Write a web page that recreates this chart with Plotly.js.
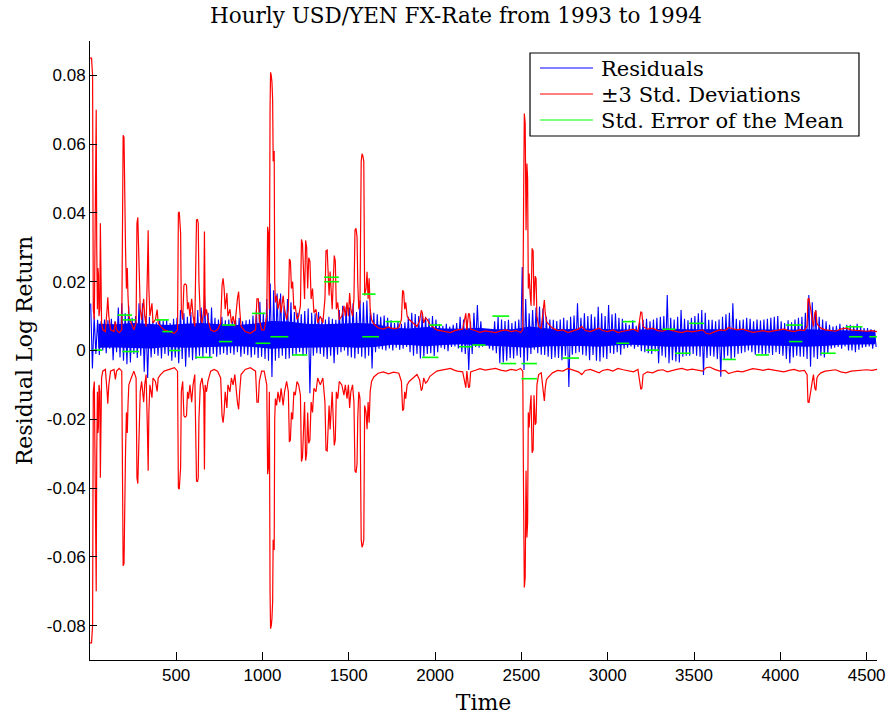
<!DOCTYPE html>
<html><head><meta charset="utf-8">
<script src="https://cdn.plot.ly/plotly-3.0.1.min.js"></script>
<style>html,body{margin:0;padding:0;background:#fff;} #chart{width:888px;height:717px;}</style>
</head><body><div id="chart"></div>
<script>
// ---------- data ----------
const binWidth = 20; // residual band read in 20-hour bins (max / min of each bin)
const residHi = [
0.0137,0.010,0.0089,0.0085,0.009, 0.0088,0.0092,0.0085,0.0125,0.0137,
0.0108,0.0130,0.0095,0.0100,0.0137, 0.0137,0.0100,0.0098,0.0085,0.0082,
0.0090,0.0087,0.0089,0.0080,0.0092, 0.0095,0.0118,0.0108,0.0098,0.0112,
0.0098,0.0118,0.0125,0.0156,0.0110, 0.0125,0.0095,0.0090,0.0098,0.0088,
0.0090,0.0086,0.0089,0.0095,0.0085, 0.0088,0.0090,0.0102,0.0118,0.0142,
0.0110,0.0150,0.0195,0.0175,0.0166, 0.0166,0.0130,0.0150,0.0140,0.0112,
0.0110,0.0105,0.0115,0.0122,0.0110, 0.0108,0.0112,0.0095,0.0090,0.0098,
0.0092,0.0089,0.0118,0.0130,0.0128, 0.0125,0.0137,0.0112,0.0145,0.0140,
0.0145,0.0120,0.0110,0.0105,0.0098, 0.0102,0.0095,0.0088,0.0080,0.0085,
0.0078,0.0082,0.0098,0.0110,0.0106, 0.0100,0.0108,0.0098,0.0094,0.0100,
0.0090,0.0077,0.0072,0.0078,0.0070, 0.0075,0.0080,0.0098,0.0090,0.0088,
0.0085,0.0110,0.0132,0.0085,0.0060, 0.0055,0.0062,0.0085,0.0098,0.0090,
0.0086,0.0089,0.0080,0.0085,0.0090, 0.0243,0.0150,0.0108,0.0118,0.0125,
0.0128,0.0122,0.0098,0.0090,0.0089, 0.0086,0.0090,0.0095,0.0088,0.0098,
0.0102,0.0137,0.0095,0.0108,0.0100, 0.0105,0.0098,0.0127,0.0108,0.0100,
0.0132,0.0105,0.0108,0.0095,0.0092, 0.0080,0.0075,0.0088,0.0072,0.0085,
0.0089,0.0092,0.0085,0.0090,0.0095, 0.0098,0.0100,0.0161,0.0095,0.0090,
0.0098,0.0118,0.0092,0.0088,0.0095, 0.0100,0.0108,0.0118,0.0110,0.0089,
0.0089,0.0085,0.0090,0.0098,0.0105, 0.0110,0.0137,0.0092,0.0088,0.0090,
0.0095,0.0092,0.0085,0.0090,0.0087, 0.0090,0.0092,0.0095,0.0098,0.0100,
0.0085,0.0080,0.0088,0.0082,0.0090, 0.0095,0.0098,0.0110,0.0161,0.0140,
0.0118,0.0098,0.0090,0.0085,0.0075, 0.0070,0.0072,0.0078,0.0068,0.0075,
0.0075,0.0072,0.0078,0.0070,0.0065, 0.0065,0.0062,0.0060
];
const residLo = [
-0.0052,-0.001,-0.0013,0.000,-0.0008, 0.0005,-0.0028,-0.0005,-0.002,-0.003,
-0.004,-0.0035,-0.001,-0.0022,-0.0015, -0.0062,-0.008,-0.002,-0.001,-0.0015,
-0.0023,-0.001,-0.0015,-0.003,-0.002, -0.0037,-0.0025,-0.0047,-0.002,-0.0028,
-0.0025,-0.0015,-0.002,-0.0008,-0.0022, -0.001,-0.0018,-0.0012,-0.0008,-0.0013,
-0.0008,-0.0012,-0.0005,-0.0018,-0.001, -0.0014,-0.002,-0.0012,-0.0022,-0.0018,
-0.0025,-0.003,-0.0077,-0.003,-0.0022, -0.0015,-0.0025,-0.0023,-0.0015,-0.0012,
-0.0005,-0.0015,-0.001,-0.0124,-0.0015, -0.0008,-0.001,-0.0018,-0.0025,-0.0015,
-0.0037,-0.0012,-0.0005,0.000,-0.0015, -0.002,-0.0023,-0.001,-0.0018,-0.0023,
-0.0015,-0.0052,-0.0005,0.0005,0.0003, 0.000,0.0006,0.000,0.0008,0.0002,
0.0005,0.0010,-0.0005,-0.0015,-0.001, -0.0023,-0.0018,-0.001,-0.0008,-0.0016,
-0.0005,0.0008,0.0004,-0.0002,0.0010, 0.0012,0.0006,-0.0005,-0.001,-0.0057,
-0.001,0.001,0.0008,0.0011,0.0015, 0.0005,0.000,-0.0008,-0.0037,-0.0035,
-0.0030,-0.0022,-0.0023,-0.0015,-0.002, -0.0057,-0.003,-0.001,0.0002,-0.0008,
-0.0012,-0.0013,-0.0018,-0.0025,-0.002, -0.0022,-0.0028,-0.0015,-0.0106,-0.0012,
-0.0008,-0.0005,-0.0012,-0.0015,-0.0028, -0.0013,-0.003,-0.0032,-0.002,-0.0025,
-0.0008,-0.001,-0.0005,-0.0012,0.0005, 0.0008,0.0012,0.0005,0.0010,-0.0002,
-0.0005,-0.0008,-0.001,-0.0003,-0.0037, -0.0015,-0.002,-0.0037,-0.0028,-0.0032,
-0.0035,-0.0018,-0.0015,-0.0015,-0.001, -0.0015,-0.0018,-0.0071,-0.0022,-0.0015,
-0.0018,-0.0025,-0.0076,-0.0025,-0.0015, -0.0027,-0.002,-0.001,-0.0008,-0.0005,
0.000,-0.0005,-0.0012,-0.0008,-0.001, -0.0012,-0.0008,-0.0013,-0.0005,-0.001,
-0.0015,-0.0025,-0.0037,-0.002,-0.0015, -0.0018,-0.0018,-0.0025,-0.0047,-0.002,
-0.0025,-0.0015,-0.002,-0.0008,0.0005, 0.0008,0.0010,0.0005,0.0012,0.000,
0.000,-0.0005,0.0002,0.0008,0.0010, 0.0012,0.0005,0.0010
];
// dense core of the residual cloud, read per 100-hour block
const coreBlock = 100;
const coreHi = [
0.0078,0.0076,0.0080,0.0078,0.0074,0.0078,0.0080,0.0076,0.0074,0.0078,
0.0086,0.0084,0.0078,0.0076,0.0078,0.0080,0.0078,0.0066,0.0064,0.0068,
0.0064,0.0063,0.0066,0.0062,0.0062,0.0070,0.0064,0.0062,0.0064,0.0064,
0.0062,0.0060,0.0062,0.0063,0.0062,0.0063,0.0062,0.0062,0.0061,0.0062,
0.0060,0.0062,0.0061,0.0058,0.0058,0.0056
];
const coreLo = [
0.0008,0.0009,0.0007,0.0006,0.0010,0.0008,0.0009,0.0011,0.0012,0.0010,
0.0005,0.0007,0.0008,0.0010,0.0010,0.0008,0.0010,0.0017,0.0016,0.0012,
0.0016,0.0018,0.0016,0.0012,0.0011,0.0008,0.0012,0.0012,0.0013,0.0011,
0.0015,0.0017,0.0014,0.0011,0.0012,0.0012,0.0011,0.0013,0.0015,0.0014,
0.0013,0.0011,0.0013,0.0017,0.0017,0.0018
];
// 3 x rolling standard deviation (plotted as +/-)
const sdTime = [
1,10,16,20,26,30,33,37,40,44, 47,50,53,58,61,64,68,75,90,100,
104,110,120,140,148,155,170,185,190,193, 198,201,204,207,212,217,221,226,240,255,
268,273,278,282,287,292,300,312,318,326, 334,338,342,348,360,366,380,390,396,410,
430,460,490,508,513,518,522,526,530,538, 545,552,560,566,572,580,590,598,608,618,
624,628,632,640,650,660,664,668,676,684, 700,720,740,758,766,772,778,784,794,800,
812,820,830,840,855,862,868,876,900,930, 960,968,976,982,995,1010,1025,1030,1035,1040,
1044,1047,1051,1055,1059,1062,1065,1068,1071,1075, 1082,1090,1100,1108,1120,1128,1140,1150,1156,1162,
1168,1175,1182,1190,1200,1210,1220,1226,1232,1238, 1244,1250,1256,1262,1268,1275,1282,1290,1298,1310,
1320,1335,1350,1362,1368,1375,1380,1386,1392,1398, 1404,1410,1416,1422,1428,1436,1445,1460,1472,1480,
1490,1498,1505,1512,1522,1530,1536,1542,1548,1552, 1558,1565,1572,1577,1582,1587,1592,1600,1606,1612,
1618,1624,1632,1645,1670,1700,1730,1760,1790,1805, 1812,1818,1824,1830,1838,1850,1862,1880,1895,1910,
1920,1926,1934,1945,1955,1970,1990,2010,2030,2060, 2090,2110,2130,2160,2172,2178,2184,2194,2200,2206,
2230,2260,2290,2320,2350,2380,2410,2440,2470,2495, 2508,2513,2517,2522,2527,2532,2536,2540,2545,2550,
2556,2562,2568,2573,2580,2585,2590,2600,2615,2628, 2633,2638,2645,2655,2680,2710,2740,2770,2800,2830,
2850,2870,2900,2930,2950,2970,3000,3030,3060,3090, 3120,3150,3175,3185,3192,3198,3205,3230,3260,3290,
3320,3345,3370,3400,3430,3460,3490,3520,3550,3570, 3590,3620,3650,3680,3700,3720,3750,3780,3810,3840,
3870,3900,3930,3960,3990,4020,4050,4080,4110,4140, 4155,4160,4166,4172,4178,4185,4192,4200,4206,4212,
4220,4235,4260,4290,4320,4350,4380,4410,4440,4470, 4500,4530,4560
];
const sdValue = [
0.085,0.085,0.080,0.012,0.009,0.045,0.070,0.070,0.030,0.012, 0.024,0.022,0.010,0.012,0.037,0.020,0.008,0.006,0.0055,0.012,
0.0155,0.010,0.006,0.0055,0.0084,0.006,0.0052,0.006,0.050,0.0626, 0.062,0.052,0.030,0.029,0.018,0.024,0.016,0.010,0.008,0.006,
0.008,0.037,0.0387,0.030,0.019,0.012,0.009,0.015,0.010,0.007, 0.024,0.035,0.018,0.010,0.0137,0.008,0.009,0.0119,0.008,0.007,
0.006,0.0055,0.005,0.006,0.040,0.0403,0.035,0.034,0.012,0.009, 0.019,0.0194,0.019,0.012,0.014,0.010,0.015,0.010,0.007,0.038,
0.0381,0.037,0.020,0.010,0.008,0.012,0.0346,0.010,0.012,0.009, 0.006,0.0055,0.006,0.008,0.019,0.021,0.018,0.012,0.0167,0.010,
0.012,0.008,0.010,0.007,0.015,0.0171,0.012,0.007,0.0055,0.005, 0.006,0.015,0.015,0.009,0.006,0.006,0.010,0.036,0.034,0.012,
0.070,0.0809,0.080,0.078,0.073,0.055,0.058,0.058,0.020,0.014, 0.016,0.012,0.015,0.011,0.016,0.012,0.009,0.012,0.0266,0.026,
0.018,0.020,0.012,0.013,0.009,0.010,0.013,0.0323,0.031,0.020, 0.015,0.032,0.030,0.018,0.027,0.026,0.015,0.018,0.011,0.012,
0.008,0.010,0.008,0.015,0.029,0.0292,0.022,0.016,0.023,0.018, 0.012,0.020,0.0276,0.026,0.012,0.014,0.009,0.010,0.013,0.010,
0.014,0.010,0.0167,0.012,0.010,0.015,0.035,0.0355,0.033,0.020, 0.012,0.014,0.055,0.0572,0.0565,0.055,0.016,0.018,0.0229,0.015,
0.021,0.012,0.009,0.0077,0.0066,0.0062,0.0068,0.0063,0.0066,0.009, 0.0175,0.017,0.012,0.014,0.010,0.009,0.0085,0.0078,0.007,0.0085,
0.0117,0.011,0.008,0.0095,0.009,0.0075,0.0068,0.006,0.0058,0.0055, 0.0052,0.0057,0.006,0.0062,0.0095,0.0108,0.006,0.0108,0.0105,0.0062,
0.0058,0.0053,0.0057,0.0055,0.0052,0.0057,0.006,0.0055,0.0058,0.0052, 0.006,0.045,0.0689,0.066,0.035,0.0544,0.050,0.018,0.0224,0.017,
0.013,0.0297,0.029,0.013,0.0216,0.021,0.010,0.007,0.0065,0.0125, 0.0147,0.011,0.0085,0.0078,0.0065,0.0058,0.006,0.0052,0.0057,0.0062,
0.007,0.0058,0.0055,0.006,0.0065,0.0058,0.0055,0.006,0.0052,0.0056, 0.0058,0.0062,0.0055,0.0095,0.0113,0.011,0.007,0.0062,0.0065,0.0058,
0.0056,0.0062,0.0058,0.0055,0.0052,0.0057,0.0054,0.0058,0.006,0.005, 0.0048,0.0055,0.006,0.0058,0.0067,0.0064,0.006,0.0062,0.0058,0.0053,
0.0055,0.0058,0.0054,0.0056,0.006,0.0062,0.0058,0.0055,0.006,0.0058, 0.007,0.015,0.0151,0.013,0.010,0.009,0.007,0.011,0.0116,0.008,
0.0072,0.0065,0.006,0.0057,0.0056,0.0062,0.0065,0.006,0.0058,0.0057, 0.0056,0.0058,0.0055
];
// standard error of the mean: horizontal segments
const semStart = [15,160,190,188,380,420,458,612,748,766,940,960,1046,1173,1357,1357,1578,1578,1713,1925,1965,2138,2215,2332,2380,2500,2500,2737,3050,3085,3220,3316,3390,3472,3665,3858,4032,4050,4234,4379,4398,4515];
const semEnd   = [72,245,265,285,458,480,525,710,825,843,1017,1045,1150,1260,1443,1443,1655,1675,1800,2020,2040,2215,2292,2429,2470,2590,2590,2834,3125,3162,3297,3393,3480,3559,3742,3935,4128,4128,4321,4476,4476,4560];
const semLevel = [0.0001,0.0103,0.0089,-0.0003,0.0089,0.0055,0.0,-0.002,0.0026,0.0074,0.0108,0.0021,0.004,-0.0013,0.0213,0.0200,0.0164,0.004,0.0084,-0.002,0.0074,0.0011,0.0016,0.010,-0.0038,-0.0038,-0.0082,-0.0022,0.0021,0.0084,0.0001,0.0062,-0.0008,0.0079,-0.0026,-0.0013,0.0074,0.0026,-0.0008,0.0069,0.004,0.004];

const xTickVals = [500,1000,1500,2000,2500,3000,3500,4000,4500];
const yTickVals = [0.08,0.06,0.04,0.02,0,-0.02,-0.04,-0.06,-0.08];
const yTickText = ['0.08','0.06','0.04','0.02','0','-0.02','-0.04','-0.06','-0.08'];
const legendLabels = ['Residuals','\u00B13 Std. Deviations','Std. Error of the Mean'];
const colors = ['#0000FF','#FF0000','#00FF00'];

// ---------- build traces ----------
const rx = [], ry = [];
for (let i = 0; i < residHi.length; i++) {
  rx.push(i*binWidth + 5, i*binWidth + 15);
  ry.push(residHi[i], residLo[i]);
}
const cx = [], cy = [];
for (let i = 0; i < coreHi.length; i++) { cx.push(i*coreBlock + coreBlock/2); cy.push(coreHi[i]); }
for (let i = coreLo.length - 1; i >= 0; i--) { cx.push(i*coreBlock + coreBlock/2); cy.push(coreLo[i]); }
const gx = [], gy = [];
for (let i = 0; i < semStart.length; i++) {
  gx.push(semStart[i], semEnd[i], null);
  gy.push(semLevel[i], semLevel[i], null);
}
const sdLower = sdValue.map(v => -v);

const traces = [
  {x: cx, y: cy, type: 'scatter', mode: 'lines', fill: 'toself', fillcolor: colors[0], line: {color: colors[0], width: 0}, name: legendLabels[0], showlegend: false, hoverinfo: 'skip'},
  {x: rx, y: ry, type: 'scatter', mode: 'lines', name: legendLabels[0], line: {color: colors[0], width: 1.1}, showlegend: false, hoverinfo: 'skip'},
  {x: sdTime, y: sdValue, type: 'scatter', mode: 'lines', name: legendLabels[1], line: {color: colors[1], width: 1.2}, showlegend: false, hoverinfo: 'skip'},
  {x: sdTime, y: sdLower, type: 'scatter', mode: 'lines', name: legendLabels[1], line: {color: colors[1], width: 1.2}, showlegend: false, hoverinfo: 'skip'},
  {x: gx, y: gy, type: 'scatter', mode: 'lines', name: legendLabels[2], line: {color: colors[2], width: 1.6}, connectgaps: false, showlegend: false, hoverinfo: 'skip'}
];

const serif = 'DejaVu Serif, Liberation Serif, serif';
const sans = 'Liberation Sans, Arial, sans-serif';

// custom legend box (paper coords)
const L = {x0: 0.5591, x1: 0.9771, y0: 0.8465, y1: 0.9806, lx0: 0.5718, lx1: 0.6391, tx: 0.6468, rows: [0.9564, 0.9144, 0.8724]};
const shapes = [{type: 'rect', xref: 'paper', yref: 'paper', x0: L.x0, x1: L.x1, y0: L.y0, y1: L.y1, line: {color: '#000', width: 1.2}, fillcolor: '#fff', layer: 'above'}];
const annotations = [];
for (let k = 0; k < 3; k++) {
  shapes.push({type: 'line', xref: 'paper', yref: 'paper', x0: L.lx0, x1: L.lx1, y0: L.rows[k], y1: L.rows[k], line: {color: colors[k], width: 1.2}, layer: 'above'});
  annotations.push({xref: 'paper', yref: 'paper', x: L.tx, y: L.rows[k], xanchor: 'left', yanchor: 'middle', text: legendLabels[k], showarrow: false, font: {family: serif, size: 21, color: '#000'}, yshift: -1});
}

const layout = {
  width: 888, height: 717,
  margin: {l: 90, r: 11, t: 41, b: 57},
  paper_bgcolor: '#fff', plot_bgcolor: '#fff',
  showlegend: false,
  title: {text: 'Hourly USD/YEN FX-Rate from 1993 to 1994', font: {family: serif, size: 21.5, color: '#000'}, x: 0.5135, xref: 'container', xanchor: 'center', y: 0.978, yref: 'container', yanchor: 'middle'},
  xaxis: {range: [1, 4560], tickvals: xTickVals, ticktext: xTickVals.map(String), ticks: 'inside', ticklen: 8, tickcolor: '#000', showline: true, linecolor: '#000', linewidth: 1, showgrid: false, zeroline: false,
          tickfont: {family: sans, size: 17, color: '#000'}, title: {text: 'Time', font: {family: serif, size: 22, color: '#000'}, standoff: 10}, automargin: false},
  yaxis: {range: [-0.09, 0.09], tickvals: yTickVals, ticktext: yTickText, ticks: 'inside', ticklen: 7, tickcolor: '#000', showline: true, linecolor: '#000', linewidth: 1, showgrid: false, zeroline: false,
          tickfont: {family: sans, size: 17, color: '#000'}, title: {text: 'Residual Log Return', font: {family: serif, size: 22, color: '#000'}, standoff: 8}, automargin: false},
  shapes: shapes,
  annotations: annotations
};

Plotly.newPlot('chart', traces, layout, {staticPlot: true, displayModeBar: false});
</script>
</body></html>
